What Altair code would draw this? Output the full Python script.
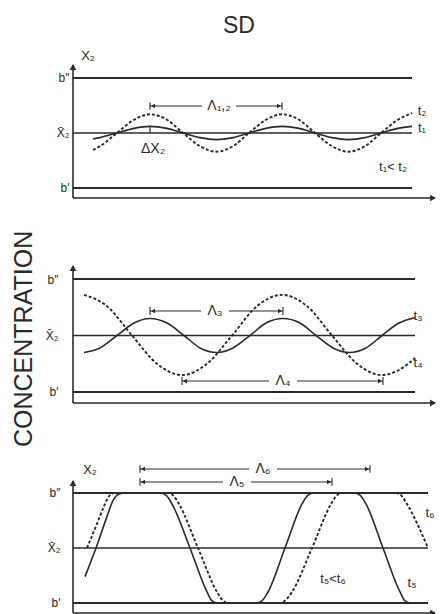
import altair as alt
import pandas as pd

FONT = "Liberation Sans, DejaVu Sans"
INK = "#2a2a2a"

# ---------------- data ----------------
# x: distance from the concentration axis, y: concentration with b' = 0, mean = 0.5, b'' = 1
levels = [1.0, 0.5, 0.0]
level_labels = ["b\u2033", "X\u0304\u2082", "b\u2032"]

# panel 1 (early stage)
p1_x = [20, 27, 44, 61, 77, 94, 110, 127, 143, 160, 176, 193, 209, 226, 242, 259, 275, 292, 308, 325, 339]
p1_t1 = [0.445, 0.458, 0.50, 0.542, 0.56, 0.542, 0.50, 0.458, 0.44, 0.458, 0.50, 0.542, 0.56,
         0.542, 0.50, 0.458, 0.44, 0.458, 0.50, 0.542, 0.56]
p1_t2 = [0.345, 0.38, 0.50, 0.62, 0.67, 0.62, 0.50, 0.38, 0.33, 0.38, 0.50, 0.62, 0.67,
         0.62, 0.50, 0.38, 0.33, 0.38, 0.50, 0.62, 0.68]

# panel 2 (coarsening)
p2_x_t3 = [11, 27, 44, 61, 77, 94, 111, 127, 144, 160, 177, 193, 210, 227, 243, 260, 276, 293, 309, 326, 342]
p2_t3 = [0.35, 0.39, 0.50, 0.61, 0.65, 0.61, 0.50, 0.39, 0.35, 0.39, 0.50, 0.61, 0.65,
         0.61, 0.50, 0.39, 0.35, 0.39, 0.50, 0.61, 0.66]
p2_x_t4 = [11, 34, 59, 84, 109, 134, 159, 184, 209, 234, 259, 284, 309, 325, 342]
p2_t4 = [0.86, 0.76, 0.50, 0.25, 0.15, 0.25, 0.50, 0.76, 0.86, 0.76, 0.50, 0.25, 0.15, 0.19, 0.30]

# panel 3 (late stage, saturated at b' and b'')
p3_x_t5 = [12, 23, 33, 40, 46, 53, 87, 93, 99, 117, 134, 139, 145, 183, 189, 195, 212,
           229, 235, 241, 281, 287, 293, 310, 327, 332, 338, 355]
p3_t5 = [0.24, 0.50, 0.76, 0.93, 0.99, 1.0, 1.0, 0.98, 0.90, 0.50, 0.10, 0.02, 0.0, 0.0, 0.02, 0.10, 0.50,
         0.90, 0.98, 1.0, 1.0, 0.98, 0.90, 0.50, 0.10, 0.02, 0.0, 0.0]
p3_x_t6 = [14, 24, 31, 36, 41, 95, 101, 106, 125, 144, 149, 155, 207, 213, 219, 239,
           258, 263, 269, 323, 329, 334, 355]
p3_t6 = [0.50, 0.72, 0.88, 0.97, 1.0, 1.0, 0.97, 0.90, 0.50, 0.10, 0.03, 0.0, 0.0, 0.03, 0.10, 0.50,
         0.90, 0.97, 1.0, 1.0, 0.97, 0.90, 0.50]

# wavelength markers: label, start, end, level, label position, half gap
p1_dims = [("\u039b\u2081,\u2082", 77, 209, 0.745, 146, 17)]
p2_dims = [("\u039b\u2083", 77, 210, 0.717, 142, 14), ("\u039b\u2084", 109, 310, 0.097, 210, 14)]
p3_dims = [("\u039b\u2086", 67, 297, 1.218, 190, 14), ("\u039b\u2085", 67, 259, 1.10, 164, 14)]

# text labels: text, x, y, font size
p1_texts = [("SD", 166, 1.47, 23), ("X\u2082", 15, 1.20, 13), ("t\u2082", 349, 0.70, 13),
            ("t\u2081", 349, 0.545, 13), ("t\u2081< t\u2082", 320, 0.19, 13), ("\u0394X\u2082", 80, 0.355, 14)]
p2_texts = [("t\u2083", 345, 0.673, 13), ("t\u2084", 345, 0.257, 13)]
p3_texts = [("X\u2082", 17, 1.21, 13), ("t\u2086", 357, 0.82, 13), ("t\u2085", 339, 0.18, 13),
            ("t\u2085<t\u2086", 260, 0.22, 13)]

X_MAX = 364

label_expr = " : ".join(
    f"datum.value == {v} ? '{t}'" for v, t in zip(levels[:-1], level_labels[:-1])
) + f" : '{level_labels[-1]}'"


def curve(xv, yv, dashed, X, Y):
    df = pd.DataFrame({"x": xv, "y": yv})
    kw = dict(interpolate="monotone", color=INK, strokeWidth=1.6)
    if dashed:
        kw["strokeDash"] = [3, 2]
        kw["strokeWidth"] = 1.9
    return alt.Chart(df).mark_line(**kw).encode(x=X, y=Y)


def panel(curve_data, line_end, dims, texts, lo, hi, axis_y, px_per_unit, label_pad, extra=None):
    height = round((hi - lo) * px_per_unit)
    xs = alt.Scale(domain=[0, X_MAX], nice=False, zero=False)
    ys = alt.Scale(domain=[lo, hi], nice=False, zero=False)
    xax = alt.Axis(title=None, labels=False, ticks=False, grid=False, domain=False)
    yax = alt.Axis(title=None, values=levels, labelExpr=label_expr, ticks=False, grid=False, domain=False,
                   labelPadding=label_pad, labelFontSize=12, labelColor=INK, labelFont=FONT)
    X = alt.X("x:Q", scale=xs, axis=xax)
    Y = alt.Y("y:Q", scale=ys, axis=yax)

    lv = pd.DataFrame({"y": levels, "x": 0, "x1": line_end, "w": [2.0, 1.3, 2.0]})
    rules = alt.Chart(lv).mark_rule(color=INK).encode(
        x=X, x2="x1:Q", y=Y, strokeWidth=alt.StrokeWidth("w:Q", scale=None))

    # the two axis lines with their arrow heads
    ax_h = alt.Chart(pd.DataFrame({"x": [0], "x1": [X_MAX - 2], "y": [axis_y]})).mark_rule(
        color=INK, strokeWidth=1.6).encode(x=X, x2="x1:Q", y=Y)
    ax_v = alt.Chart(pd.DataFrame({"x": [0], "y": [axis_y], "y1": [hi - 0.02]})).mark_rule(
        color=INK, strokeWidth=1.6).encode(x=X, y=Y, y2="y1:Q")
    heads = pd.DataFrame({"x": [0, X_MAX - 4], "y": [hi - 4 / px_per_unit, axis_y],
                          "shape": ["triangle-up", "triangle-right"]})
    axis_heads = alt.Chart(heads).mark_point(filled=True, color=INK, size=45, opacity=1).encode(
        x=X, y=Y, shape=alt.Shape("shape:N", scale=None))

    layers = [rules, ax_h, ax_v, axis_heads]
    for xv, yv, dashed in curve_data:
        layers.append(curve(xv, yv, dashed, X, Y))

    seg_rows, head_rows, bar_rows, lab_rows = [], [], [], []
    for lab, x1, x2, yv, lx, g in dims:
        seg_rows += [{"x": x1, "x2": lx - g, "y": yv}, {"x": lx + g, "x2": x2, "y": yv}]
        head_rows += [{"x": x1 + 3, "y": yv, "shape": "triangle-left"},
                      {"x": x2 - 3, "y": yv, "shape": "triangle-right"}]
        bar_rows += [{"x": x1, "y": yv - 0.035, "y2": yv + 0.035},
                     {"x": x2, "y": yv - 0.035, "y2": yv + 0.035}]
        lab_rows.append({"x": lx, "y": yv, "t": lab})
    layers.append(alt.Chart(pd.DataFrame(seg_rows)).mark_rule(color=INK, strokeWidth=1.1).encode(
        x=X, x2="x2:Q", y=Y))
    layers.append(alt.Chart(pd.DataFrame(head_rows)).mark_point(filled=True, color=INK, size=22, opacity=1).encode(
        x=X, y=Y, shape=alt.Shape("shape:N", scale=None)))
    layers.append(alt.Chart(pd.DataFrame(bar_rows)).mark_rule(color=INK, strokeWidth=1.1).encode(
        x=X, y=Y, y2="y2:Q"))
    layers.append(alt.Chart(pd.DataFrame(lab_rows)).mark_text(font=FONT, fontSize=14, color=INK,
                                                             baseline="middle").encode(
        x=X, y=Y, text="t:N"))

    tx = pd.DataFrame(texts, columns=["t", "x", "y", "fs"])
    layers.append(alt.Chart(tx).mark_text(font=FONT, color=INK, baseline="middle").encode(
        x=X, y=Y, text="t:N", size=alt.Size("fs:Q", scale=None)))

    if extra is not None:
        layers += extra(X, Y)
    return alt.layer(*layers).properties(width=X_MAX, height=height)


def p1_extra(X, Y):
    return [alt.Chart(pd.DataFrame({"x": [77], "y": [0.5], "y2": [0.565]})).mark_rule(
        color=INK, strokeWidth=1.2).encode(x=X, y=Y, y2="y2:Q")]


def p2_extra(X, Y):
    return [alt.Chart(pd.DataFrame({"x": [-49], "y": [0.47], "t": ["CONCENTRATION"]})).mark_text(
        font=FONT, fontSize=25, color=INK, angle=270, baseline="middle", align="center").encode(
        x=X, y=Y, text="t:N")]


P1 = panel([(p1_x, p1_t1, False), (p1_x, p1_t2, True)], 339, p1_dims, p1_texts,
           -0.091, 1.136, -0.091, 110, 4, p1_extra)
P2 = panel([(p2_x_t3, p2_t3, False), (p2_x_t4, p2_t4, True)], 342, p2_dims, p2_texts,
           -0.186, 1.133, -0.097, 113, 15, p2_extra)
P3 = panel([(p3_x_t5, p3_t5, False), (p3_x_t6, p3_t6, True)], 355, p3_dims, p3_texts,
           -0.091, 1.127, -0.091, 110, 13)

chart = alt.vconcat(P1, P2, P3, spacing=66, bounds="flush").properties(
    padding={"left": 3, "top": 7, "right": 0, "bottom": 0}
).configure_view(stroke=None)

chart.save("out.html", embed_options={"renderer": "svg", "actions": False})
